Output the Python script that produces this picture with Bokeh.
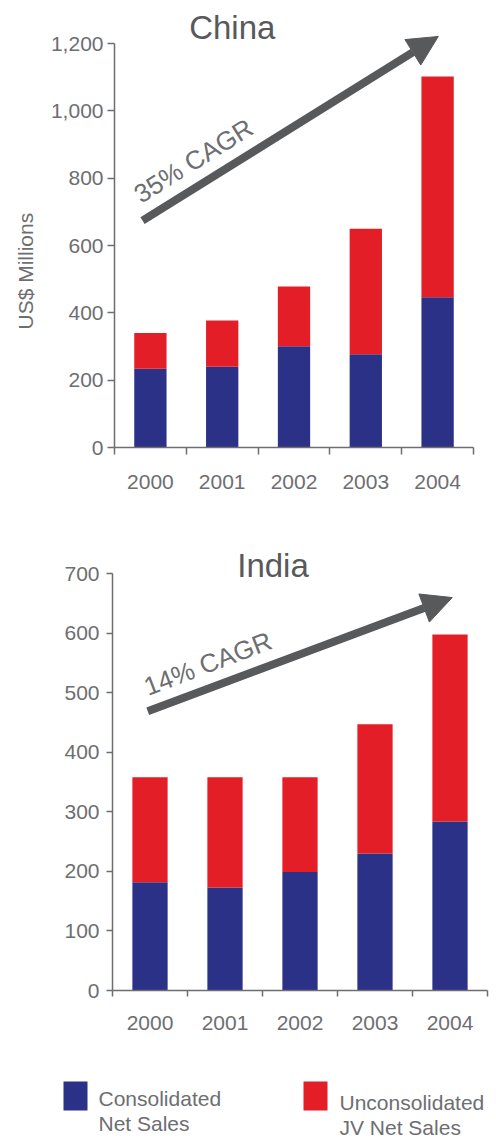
from bokeh.plotting import figure
from bokeh.models import Range1d, FixedTicker, Label, Arrow, NormalHead, NumeralTickFormatter, ColumnDataSource, Title
from bokeh.embed import file_html
from bokeh.resources import INLINE
from bokeh.core.properties import value

years = ["2000", "2001", "2002", "2003", "2004"]
china_consolidated = [234, 240, 301, 277, 446]
china_jv = [106, 137, 177, 373, 656]
india_consolidated = [182, 173, 199, 230, 284]
india_jv = [176, 185, 159, 217, 314]
china_yticks = [0, 200, 400, 600, 800, 1000, 1200]
india_yticks = [0, 100, 200, 300, 400, 500, 600, 700]
series_names = ["Consolidated\nNet Sales", "Unconsolidated\nJV Net Sales"]

BLUE = "#2b3187"
RED = "#e41e26"
GRAY = "#6d6e71"
DARK = "#58595b"
FONT = "Liberation Sans"


def make_chart(title, cons, jv, yaxis_max, yrange_end, yticks, height, borders, bar_width,
               title_pos, arrow_pts, cagr_text, cagr_pos, cagr_angle,
               ylabel=None, xstand=16, ystand=4, tick_len=7):
    left, right, top, bottom = borders
    p = figure(width=496, height=height, output_backend="svg", toolbar_location=None,
               x_range=Range1d(0, len(years)), y_range=Range1d(0, yrange_end),
               min_border_left=left, min_border_right=right,
               min_border_top=top, min_border_bottom=bottom)
    p.outline_line_color = None
    p.xgrid.visible = False
    p.ygrid.visible = False
    p.background_fill_color = "white"
    p.border_fill_color = "white"

    xs = [i + 0.5 for i in range(len(years))]
    src = ColumnDataSource(dict(x=xs, cons=cons, jv=jv))
    p.vbar_stack(["cons", "jv"], x="x", width=bar_width, source=src,
                 color=[BLUE, RED], line_color=None)

    xa = p.xaxis[0]
    xa.ticker = FixedTicker(ticks=xs, minor_ticks=list(range(len(years) + 1)))
    xa.major_label_overrides = {x: y for x, y in zip(xs, years)}
    xa.major_tick_out = 0
    xa.major_tick_in = 0
    xa.minor_tick_out = tick_len
    xa.minor_tick_in = 0
    xa.minor_tick_line_color = GRAY
    xa.minor_tick_line_width = 1.5
    xa.axis_line_color = GRAY
    xa.axis_line_width = 1.5
    xa.major_label_text_font = FONT
    xa.major_label_text_font_size = "21px"
    xa.major_label_text_color = GRAY
    xa.major_label_standoff = xstand

    ya = p.yaxis[0]
    ya.ticker = FixedTicker(ticks=yticks, minor_ticks=[])
    ya.bounds = (0, yaxis_max)
    ya.formatter = NumeralTickFormatter(format="0,0")
    ya.major_tick_out = tick_len
    ya.major_tick_in = 0
    ya.minor_tick_out = 0
    ya.minor_tick_in = 0
    ya.major_tick_line_color = GRAY
    ya.major_tick_line_width = 1.5
    ya.axis_line_color = GRAY
    ya.axis_line_width = 1.5
    ya.major_label_text_font = FONT
    ya.major_label_text_font_size = "21px"
    ya.major_label_text_color = GRAY
    ya.major_label_standoff = ystand

    p.add_layout(Label(x=title_pos[0], y=title_pos[1], text=title,
                       text_font=FONT, text_font_size="33px", text_color=DARK,
                       text_align="center", text_baseline="middle"))
    p.add_layout(Arrow(x_start=arrow_pts[0], y_start=arrow_pts[1],
                       x_end=arrow_pts[2], y_end=arrow_pts[3],
                       line_color=DARK, line_width=8,
                       end=NormalHead(size=30, fill_color=DARK, line_color=DARK, line_width=1)))
    p.add_layout(Label(x=cagr_pos[0], y=cagr_pos[1], text=cagr_text,
                       text_font=FONT, text_font_size="26px", text_color=GRAY,
                       text_align="center", text_baseline="middle", angle=cagr_angle,
                       angle_units="deg"))
    if ylabel:
        p.add_layout(Title(text=ylabel, align="left", offset=118, standoff=22,
                           text_font=FONT, text_font_size="21px", text_color=GRAY,
                           text_font_style="normal"), "left")
    return p


china = make_chart("China", china_consolidated, china_jv, 1200, 1310, china_yticks, 520,
                   (114, 23, 6, 73), 0.45,
                   (1.64, 1247), (0.39, 674, 4.51, 1221), "35% CAGR", (1.10, 852), 32,
                   ylabel="US$ Millions", xstand=20, ystand=4)

india = make_chart("India", india_consolidated, india_jv, 700, 781, india_yticks, 540,
                   (112, 9, 5, 70), 0.47,
                   (2.14, 714), (0.47, 469, 4.53, 660), "14% CAGR", (1.27, 549), 21,
                   xstand=19, ystand=7, tick_len=6)

# legend panel
leg = figure(width=496, height=80, output_backend="svg", toolbar_location=None,
             x_range=Range1d(0, 496), y_range=Range1d(80, 0),
             min_border_left=0, min_border_right=0, min_border_top=0, min_border_bottom=0)
leg.axis.visible = False
leg.grid.visible = False
leg.outline_line_color = None
sw = ColumnDataSource(dict(x=[75, 315], y=[35.5, 35.5], c=[BLUE, RED]))
leg.rect(x="x", y="y", width=24, height=29, fill_color="c", line_color=None, source=sw)
lines1 = [s.split("\n")[0] for s in series_names]
lines2 = [s.split("\n")[1] for s in series_names]
tsrc = ColumnDataSource(dict(x=[98, 339, 98, 339], y=[38, 42, 63, 67], t=lines1 + lines2))
leg.text(x="x", y="y", text="t", source=tsrc, text_font=value(FONT), text_font_size="21px",
         text_color=GRAY, text_baseline="alphabetic", text_align="left")

open("out.html", "w").write(file_html([china, india, leg], INLINE))
